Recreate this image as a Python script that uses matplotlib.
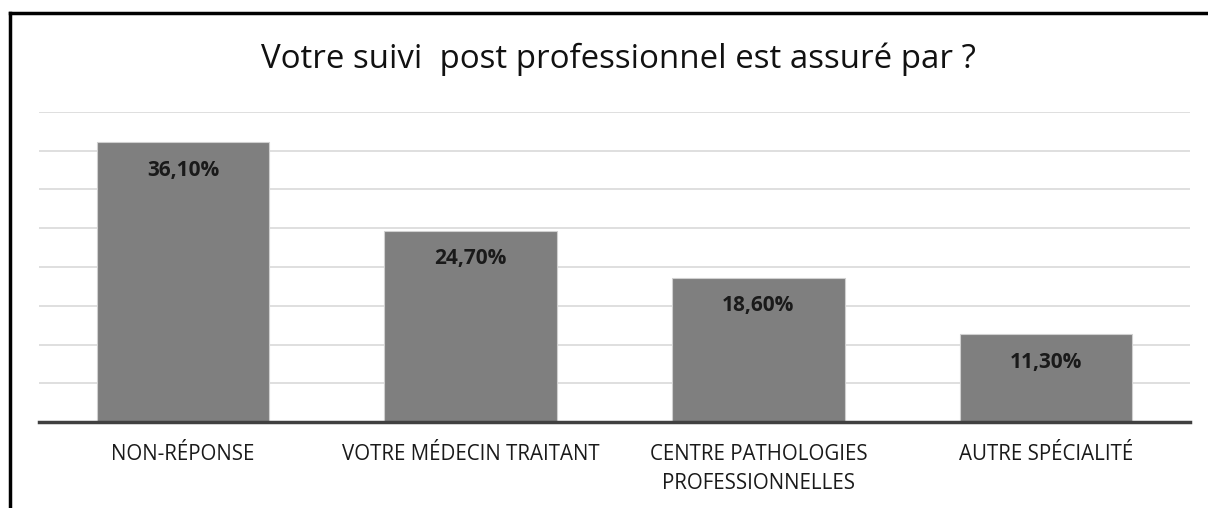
import matplotlib
matplotlib.use("Agg")
import matplotlib.pyplot as plt
from matplotlib.lines import Line2D

categories = ["NON-RÉPONSE", "VOTRE MÉDECIN TRAITANT", "CENTRE PATHOLOGIES\nPROFESSIONNELLES", "AUTRE SPÉCIALITÉ"]
values = [36.1, 24.7, 18.6, 11.3]
labels = ["36,10%", "24,70%", "18,60%", "11,30%"]
title = "Votre suivi  post professionnel est assuré par ?"

plt.rcParams['font.family'] = ['Open Sans', 'DejaVu Sans']

W, H = 1208, 508
fig = plt.figure(figsize=(W/100, H/100), dpi=100)
ax = fig.add_axes([39/W, 1 - 422/H, (1190-39)/W, (422-112)/H])

x = list(range(len(categories)))
ax.bar(x, values, width=0.6, color="#7f7f7f", edgecolor="#d0d0d0", linewidth=0.8, zorder=3)
ax.set_xlim(-0.5, len(categories) - 0.5)
ax.set_ylim(0, 40)
ax.set_yticks([5 * i for i in range(1, 9)])
ax.yaxis.grid(True, color="#d9d9d9", linewidth=1.2, zorder=0)
ax.tick_params(axis='y', left=False, labelleft=False)
ax.tick_params(axis='x', bottom=False, pad=12, labelsize=14.8)
ax.set_xticks(x)
ax.set_xticklabels(categories, color="#1a1a1a", linespacing=1.55)
for s in ["top", "right", "left"]:
    ax.spines[s].set_visible(False)
ax.spines["bottom"].set_color("#404040")
ax.spines["bottom"].set_linewidth(2.5)
ax.spines["bottom"].set_zorder(4)

for xi, v, lab in zip(x, values, labels):
    ax.annotate(lab, (xi, v), xytext=(0, -20), textcoords="offset points",
                ha="center", va="center", fontsize=15, fontweight="bold",
                color="#1a1a1a", zorder=5)

fig.text(618/W, 1 - 59/H, title, ha="center", va="center", fontsize=23.8, color="#111111")

# partial frame (top and left)
fig.add_artist(Line2D([10/W, 10/W], [0, 1 - 13/H], color="black", linewidth=2.5, transform=fig.transFigure))
fig.add_artist(Line2D([10/W, 1], [1 - 13/H, 1 - 13/H], color="black", linewidth=2.5, transform=fig.transFigure))

fig.savefig("out.png", dpi=100)
